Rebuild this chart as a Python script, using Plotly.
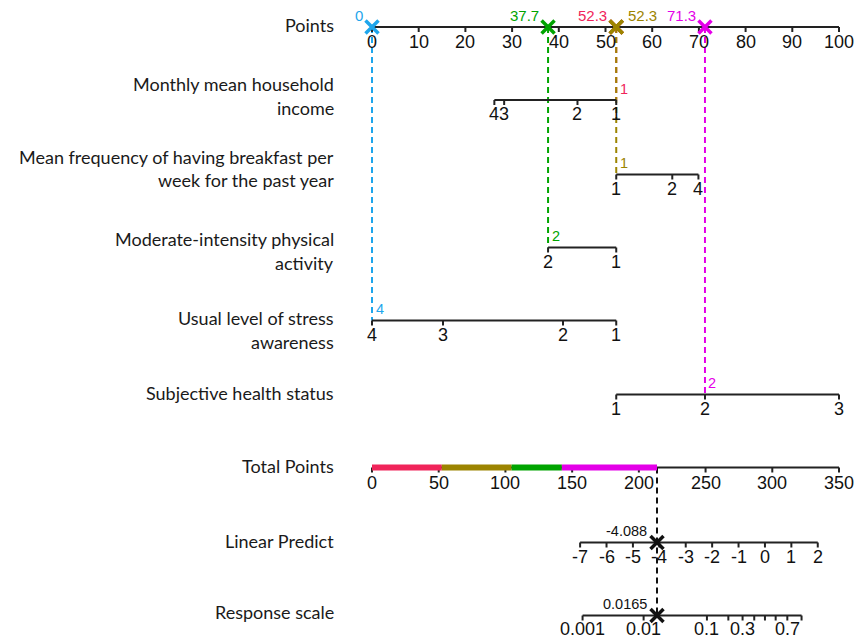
import numpy as np
import plotly.graph_objects as go

# ---- canvas geometry (pixel based vertical axis, points based horizontal axis)
W, H = 857, 641
X0_PX, PX_PER_PT = 372, 4.67

# ---- data
point_ticks = list(range(0, 101, 10))

income_levels = ["4", "3", "2", "1"]
income_points = [26.2, 28.3, 44.0, 52.3]
breakfast_levels = ["1", "2", "4"]
breakfast_points = [52.3, 64.3, 69.9]
activity_levels = ["2", "1"]
activity_points = [37.7, 52.3]
stress_levels = ["4", "3", "2", "1"]
stress_points = [0.0, 15.2, 40.9, 52.3]
health_levels = ["1", "2", "3"]
health_points = [52.3, 71.3, 100.0]

# selected level for each predictor
selected = {"income": "1", "breakfast": "1", "activity": "2", "stress": "4", "health": "2"}

total_ticks = list(range(0, 351, 50))
total_max = 350

lp_ticks = list(range(-7, 3))
lp_value = -4.088
lp_per_total = 0.05053   # linear predictor units per total point

resp_ticks = [0.001, 0.01, 0.1, 0.2, 0.3, 0.4, 0.5, 0.6, 0.7, 0.8]
resp_labels = ["0.001", "0.01", "0.1", "", "0.3", "", "", "", "0.7", ""]

# ---- styling
colors = {
    "income": "#F0245A",
    "breakfast": "#9C8400",
    "activity": "#00A400",
    "stress": "#1EA6EC",
    "health": "#E400E8",
}
AX_COLOR = "#222222"
TICK_FONT = dict(family="Liberation Sans, Arial", size=18, color="#111111")
VAL_FONT = "Liberation Sans, Arial"
TITLE_FONT = dict(family="Lato, Open Sans", size=18, color="#1a1a1a")

rows = {"points": 27, "income": 100, "breakfast": 174.5, "activity": 247.5,
        "stress": 320.5, "health": 394.5, "total": 467.5, "lp": 542.5, "resp": 615.5}

predictors = {
    "income": (income_levels, income_points),
    "breakfast": (breakfast_levels, breakfast_points),
    "activity": (activity_levels, activity_points),
    "stress": (stress_levels, stress_points),
    "health": (health_levels, health_points),
}

fig = go.Figure()
annotations = []


def px_to_pts(dx):
    return dx / PX_PER_PT


def total_to_pts(t):
    return t * 100.0 / total_max


total_value = sum(predictors[k][1][predictors[k][0].index(v)] for k, v in selected.items())


def lp_to_pts(lp):
    return total_to_pts(total_value + (lp - lp_value) / lp_per_total)


def add_axis(y, tick_x, tick_txt, label_dy=14, tick_len=5):
    xs, ys = [min(tick_x), max(tick_x), None], [y, y, None]
    for t in tick_x:
        xs += [t, t, None]
        ys += [y, y + tick_len, None]
    fig.add_trace(go.Scatter(x=xs, y=ys, mode="lines", hoverinfo="skip",
                             line=dict(color=AX_COLOR, width=2)))
    for t, s in zip(tick_x, tick_txt):
        if s:
            annotations.append(dict(x=t, y=y + label_dy, text=s, showarrow=False,
                                    xanchor="center", yanchor="middle", font=TICK_FONT))


def add_title(lines, ys):
    for s, yy in zip(lines, ys):
        annotations.append(dict(x=px_to_pts(336 - X0_PX), y=yy, text=s, showarrow=False,
                                xanchor="right", yanchor="middle", font=TITLE_FONT))


# ---- titles
add_title(["Points"], [25])
add_title(["Monthly mean household", "income"], [84, 108])
add_title(["Mean frequency of having breakfast per", "week for the past year"], [157, 180])
add_title(["Moderate-intensity physical", "activity"], [239, 263])
add_title(["Usual level of stress", "awareness"], [318, 342])
add_title(["Subjective health status"], [393])
add_title(["Total Points"], [466])
add_title(["Linear Predict"], [541])
add_title(["Response scale"], [612])

# ---- dashed projections from each predictor to the Points axis
order = ["income", "breakfast", "activity", "stress", "health"]
for k in order:
    lv, pts = predictors[k]
    p = pts[lv.index(selected[k])]
    fig.add_trace(go.Scatter(x=[p, p], y=[rows["points"], rows[k]], mode="lines",
                             hoverinfo="skip",
                             line=dict(color=colors[k], width=2, dash="6px,4px")))

# total -> response projection
total_pts = total_to_pts(total_value)
fig.add_trace(go.Scatter(x=[total_pts, total_pts], y=[rows["total"], rows["resp"]],
                         mode="lines", hoverinfo="skip",
                         line=dict(color="#111111", width=2, dash="6px,4px")))

# ---- axes
add_axis(rows["points"], point_ticks, [str(t) for t in point_ticks], label_dy=15)
for k in order:
    lv, pts = predictors[k]
    add_axis(rows[k], pts, lv, label_dy=14)

add_axis(rows["total"], [total_to_pts(t) for t in total_ticks], [str(t) for t in total_ticks],
         label_dy=15)

# colored contribution bar on the Total Points axis
cum = 0.0
for k in ["income", "breakfast", "activity", "health", "stress"]:
    lv, pts = predictors[k]
    p = pts[lv.index(selected[k])]
    if p > 0:
        fig.add_trace(go.Scatter(x=[total_to_pts(cum), total_to_pts(cum + p)],
                                 y=[rows["total"], rows["total"]], mode="lines",
                                 hoverinfo="skip", line=dict(color=colors[k], width=6)))
    cum += p

add_axis(rows["lp"], [lp_to_pts(v) for v in lp_ticks], [str(v) for v in lp_ticks], label_dy=14)

resp_lp = [np.log(p / (1 - p)) for p in resp_ticks]
add_axis(rows["resp"], [lp_to_pts(v) for v in resp_lp], resp_labels, label_dy=13)

# ---- selected-level markers on Points axis and value labels
for k in order:
    lv, pts = predictors[k]
    p = pts[lv.index(selected[k])]
    fig.add_trace(go.Scatter(x=[p], y=[rows["points"]], mode="markers", hoverinfo="skip",
                             marker=dict(symbol="x-thin", size=13,
                                         line=dict(color=colors[k], width=3.5))))
    # selected level next to its axis
    annotations.append(dict(x=p + px_to_pts(1.5), y=rows[k] - 1.5, text=selected[k],
                            showarrow=False, xanchor="left", yanchor="bottom",
                            font=dict(family=VAL_FONT, size=14.5, color=colors[k])))
    # point value above the Points axis
    right_side = (k == "breakfast")
    annotations.append(dict(
        x=p + px_to_pts(10 if right_side else -7), y=15.5, text=f"{p:g}",
        showarrow=False, xanchor="left" if right_side else "right", yanchor="middle",
        font=dict(family=VAL_FONT, size=15, color=colors[k])))

# draw the breakfast marker on top (it shares its position with income)
fig.add_trace(go.Scatter(x=[breakfast_points[breakfast_levels.index(selected["breakfast"])]],
                         y=[rows["points"]], mode="markers", hoverinfo="skip",
                         marker=dict(symbol="x-thin", size=13,
                                     line=dict(color=colors["breakfast"], width=3.5))))

# ---- predicted values
resp_value = 1 / (1 + np.exp(-lp_value))
for row, txt in [("lp", f"{lp_value:.3f}"), ("resp", f"{resp_value:.4f}")]:
    fig.add_trace(go.Scatter(x=[lp_to_pts(lp_value)], y=[rows[row]], mode="markers",
                             hoverinfo="skip",
                             marker=dict(symbol="x-thin", size=13,
                                         line=dict(color="#111111", width=3.5))))
    annotations.append(dict(x=lp_to_pts(lp_value) + px_to_pts(-8), y=rows[row] - 12, text=txt,
                            showarrow=False, xanchor="right", yanchor="middle",
                            font=dict(family=VAL_FONT, size=14.5, color="#111111")))

fig.update_layout(
    width=W, height=H, margin=dict(l=0, r=0, t=0, b=0),
    paper_bgcolor="white", plot_bgcolor="white", showlegend=False,
    xaxis=dict(range=[px_to_pts(-X0_PX), px_to_pts(W - X0_PX)], visible=False, fixedrange=True),
    yaxis=dict(range=[H, 0], visible=False, fixedrange=True),
    annotations=annotations,
)

fig.write_html("out.html")
